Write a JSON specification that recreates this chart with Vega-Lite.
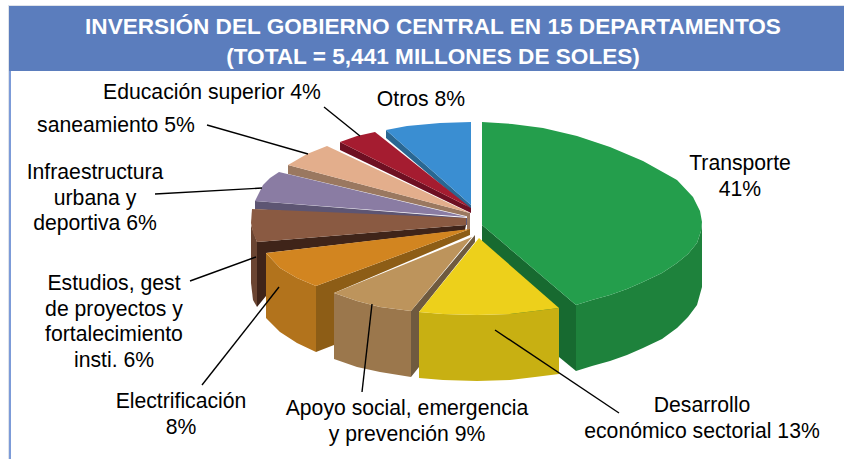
{
"$schema":"https://vega.github.io/schema/vega-lite/v6.json",
"width":844,"height":459,"padding":0,
"autosize":{"type":"fit","contains":"padding"},
"background":"white",
"view":{"stroke":null},
"projection":{"type":"identity","reflectY":true,"scale":1,"translate":[482,225]},
"layer":[
{"data":{"values":[
{"type":"Feature","properties":{"part":"borde"},"geometry":{"type":"Polygon","coordinates":[[[-474,220],[362,220],[362,219],[-473,219],[-473,-234],[-474,-234],[-474,220]]]}},
{"type":"Feature","properties":{"part":"banda"},"geometry":{"type":"Polygon","coordinates":[[[-473,219],[362,219],[362,154],[-473,154],[-473,219]]]}},
{"type":"Feature","properties":{"part":"marco"},"geometry":{"type":"Polygon","coordinates":[[[-473,154],[-471,154],[-471,-234],[-473,-234],[-473,154]]]}},
{"type":"Feature","properties":{"part":"Otros lado","pct":8},"geometry":{"type":"Polygon","coordinates":[[[-96,95],[-11,20],[-11,15],[-96,87],[-96,95]]]}},
{"type":"Feature","properties":{"part":"Otros cara","pct":8},"geometry":{"type":"Polygon","coordinates":[[[-11,103],[-42,102],[-75,99],[-96,95],[-11,20],[-11,103]]]}},
{"type":"Feature","properties":{"part":"Educación lado","pct":4},"geometry":{"type":"Polygon","coordinates":[[[-142,83],[-11,17],[-11,12],[-142,75],[-142,83]]]}},
{"type":"Feature","properties":{"part":"Educación cara","pct":4},"geometry":{"type":"Polygon","coordinates":[[[-11,17],[-142,83],[-125,89],[-107,93],[-11,17]]]}},
{"type":"Feature","properties":{"part":"saneamiento lado","pct":5},"geometry":{"type":"Polygon","coordinates":[[[-194,60],[-12,12],[-12,8],[-194,51],[-194,60]]]}},
{"type":"Feature","properties":{"part":"saneamiento cara","pct":5},"geometry":{"type":"Polygon","coordinates":[[[-12,12],[-194,60],[-175,71],[-155,79],[-12,12]]]}},
{"type":"Feature","properties":{"part":"saneamiento lado","pct":5},"geometry":{"type":"Polygon","coordinates":[[[-15,12],[-12,12],[-12,-5],[-15,-5],[-15,12]]]}},
{"type":"Feature","properties":{"part":"Infraestructura lado","pct":6},"geometry":{"type":"Polygon","coordinates":[[[-227,24],[-15,7],[-15,0],[-227,16],[-227,24]]]}},
{"type":"Feature","properties":{"part":"Infraestructura cara","pct":6},"geometry":{"type":"Polygon","coordinates":[[[-15,8],[-227,24],[-219,40],[-212,47],[-203,53],[-15,8]]]}},
{"type":"Feature","properties":{"part":"Estudios lado","pct":6},"geometry":{"type":"Polygon","coordinates":[[[-231,0],[-225,-17],[-225,-82],[-229,-75],[-231,-58],[-231,0]]]}},
{"type":"Feature","properties":{"part":"Estudios interior","pct":6},"geometry":{"type":"Polygon","coordinates":[[[-225,-17],[-16,0],[-17,-5],[-216,-28],[-216,-71],[-225,-82],[-225,-17]]]}},
{"type":"Feature","properties":{"part":"Estudios cara","pct":6},"geometry":{"type":"Polygon","coordinates":[[[-230,16],[-231,2],[-229,-8],[-225,-17],[-16,0],[-16,7],[-230,16]]]}},
{"type":"Feature","properties":{"part":"Electrificación interior","pct":8},"geometry":{"type":"Polygon","coordinates":[[[-166,-61],[-12,-4],[-12,-10],[-148,-68],[-148,-120],[-166,-127],[-166,-61]]]}},
{"type":"Feature","properties":{"part":"Electrificación lado","pct":8},"geometry":{"type":"Polygon","coordinates":[[[-216,-28],[-202,-43],[-185,-53],[-166,-61],[-166,-127],[-185,-118],[-202,-107],[-216,-93],[-216,-28]]]}},
{"type":"Feature","properties":{"part":"Electrificación cara","pct":8},"geometry":{"type":"Polygon","coordinates":[[[-12,-4],[-216,-28],[-202,-43],[-185,-53],[-166,-61],[-12,-4]]]}},
{"type":"Feature","properties":{"part":"Apoyo interior","pct":9},"geometry":{"type":"Polygon","coordinates":[[[-71,-86],[-7,-10],[-7,-17],[-63,-87],[-63,-142],[-71,-152],[-71,-86]]]}},
{"type":"Feature","properties":{"part":"Apoyo lado","pct":9},"geometry":{"type":"Polygon","coordinates":[[[-148,-68],[-125,-76],[-102,-82],[-71,-86],[-71,-152],[-102,-147],[-125,-142],[-148,-134],[-148,-68]]]}},
{"type":"Feature","properties":{"part":"Apoyo cara","pct":9},"geometry":{"type":"Polygon","coordinates":[[[-10,-12],[-148,-68],[-125,-76],[-102,-82],[-71,-86],[-10,-12]]]}},
{"type":"Feature","properties":{"part":"Transporte interior","pct":41},"geometry":{"type":"Polygon","coordinates":[[[0,0],[94,-80],[94,-146],[77,-132],[0,-65],[0,0]]]}},
{"type":"Feature","properties":{"part":"Transporte lado","pct":41},"geometry":{"type":"Polygon","coordinates":[[[220,3],[219,-6],[215,-18],[206,-29],[195,-38],[180,-48],[161,-57],[145,-64],[128,-70],[110,-75],[94,-80],[94,-146],[110,-141],[128,-136],[145,-130],[161,-123],[180,-114],[195,-103],[206,-92],[215,-80],[220,-62],[220,3]]]}},
{"type":"Feature","properties":{"part":"Transporte cara","pct":41},"geometry":{"type":"Polygon","coordinates":[[[0,103],[30,101],[61,97],[95,89],[128,78],[161,64],[195,45],[211,28],[218,14],[220,3],[219,-6],[215,-18],[206,-29],[195,-38],[180,-48],[161,-57],[145,-64],[128,-70],[110,-75],[94,-80],[0,0],[0,103]]]}},
{"type":"Feature","properties":{"part":"Desarrollo lado","pct":13},"geometry":{"type":"Polygon","coordinates":[[[-63,-87],[-39,-89],[-5,-90],[28,-89],[53,-86],[77,-83],[77,-149],[53,-152],[28,-155],[-5,-156],[-39,-155],[-63,-153],[-63,-87]]]}},
{"type":"Feature","properties":{"part":"Desarrollo cara","pct":13},"geometry":{"type":"Polygon","coordinates":[[[-3,-13],[-63,-87],[-39,-89],[-5,-90],[28,-89],[53,-86],[77,-83],[-3,-13]]]}}
]},
"mark":{"type":"geoshape","strokeWidth":0,"stroke":null},
"encoding":{"fill":{"field":"properties.part","type":"nominal","legend":null,"scale":{
"domain":["borde","banda","marco","Otros lado","Otros cara","Educación lado","Educación cara","saneamiento lado","saneamiento cara","Infraestructura lado","Infraestructura cara","Estudios lado","Estudios interior","Estudios cara","Electrificación interior","Electrificación lado","Electrificación cara","Apoyo interior","Apoyo lado","Apoyo cara","Transporte interior","Transporte lado","Transporte cara","Desarrollo lado","Desarrollo cara"],
"range":["#dfe3ea","#5b7dbd","#7c9bd8","#2a6792","#3a8ed2","#6e1022","#a51c30","#9a7860","#e3ae8c","#5d5573","#8a7ca3","#6b4532","#3f2419","#8a5a42","#8d5d16","#b2731c","#d28520","#6f5a3f","#9b774c","#bd945c","#176a30","#1e823c","#249e4c","#c8b012","#edd01b"]}}}
},
{"data":{"values":[
{"type":"Feature","properties":{"rotulo":"Educación superior"},"geometry":{"type":"LineString","coordinates":[[-158,118],[-122,89]]}},
{"type":"Feature","properties":{"rotulo":"saneamiento"},"geometry":{"type":"LineString","coordinates":[[-275,100],[-174,71]]}},
{"type":"Feature","properties":{"rotulo":"Infraestructura"},"geometry":{"type":"LineString","coordinates":[[-327,31],[-220,37]]}},
{"type":"Feature","properties":{"rotulo":"Estudios"},"geometry":{"type":"LineString","coordinates":[[-292,-56],[-226,-32]]}},
{"type":"Feature","properties":{"rotulo":"Electrificación"},"geometry":{"type":"LineString","coordinates":[[-280,-160],[-203,-62]]}},
{"type":"Feature","properties":{"rotulo":"Apoyo social"},"geometry":{"type":"LineString","coordinates":[[-120,-167],[-110,-79]]}},
{"type":"Feature","properties":{"rotulo":"Desarrollo"},"geometry":{"type":"LineString","coordinates":[[137,-188],[13,-105]]}}
]},
"mark":{"type":"geoshape","filled":false,"fill":null,"stroke":"#000000","strokeWidth":1.4},
"encoding":{}
},
{"data":{"values":[
{"rotulo":"Transporte\n41%","lon":258,"lat":61},
{"rotulo":"Otros 8%","lon":-61,"lat":125},
{"rotulo":"Educación superior 4%","lon":-270,"lat":132},
{"rotulo":"saneamiento 5%","lon":-366,"lat":99},
{"rotulo":"Infraestructura\nurbana y\ndeportiva 6%","lon":-387,"lat":52},
{"rotulo":"Estudios, gest\nde proyectos y\nfortalecimiento\ninsti. 6%","lon":-368,"lat":-59},
{"rotulo":"Electrificación\n8%","lon":-301,"lat":-177},
{"rotulo":"Apoyo social, emergencia\ny prevención 9%","lon":-75,"lat":-184},
{"rotulo":"Desarrollo\neconómico sectorial 13%","lon":220,"lat":-181}
]},
"mark":{"type":"text","font":"Liberation Sans","fontSize":21.2,"lineBreak":"\n","lineHeight":25.5,"align":"center","baseline":"middle","color":"#000000"},
"encoding":{"longitude":{"field":"lon","type":"quantitative"},"latitude":{"field":"lat","type":"quantitative"},"text":{"field":"rotulo","type":"nominal"}}
},
{"data":{"values":[
{"rotulo":"INVERSIÓN DEL GOBIERNO CENTRAL EN 15 DEPARTAMENTOS\n(TOTAL = 5,441 MILLONES DE SOLES)","lon":-49,"lat":198}
]},
"mark":{"type":"text","font":"Liberation Sans","fontSize":22.6,"fontWeight":"bold","lineBreak":"\n","lineHeight":30,"align":"center","baseline":"middle","color":"#ffffff"},
"encoding":{"longitude":{"field":"lon","type":"quantitative"},"latitude":{"field":"lat","type":"quantitative"},"text":{"field":"rotulo","type":"nominal"}}
}
]
}
